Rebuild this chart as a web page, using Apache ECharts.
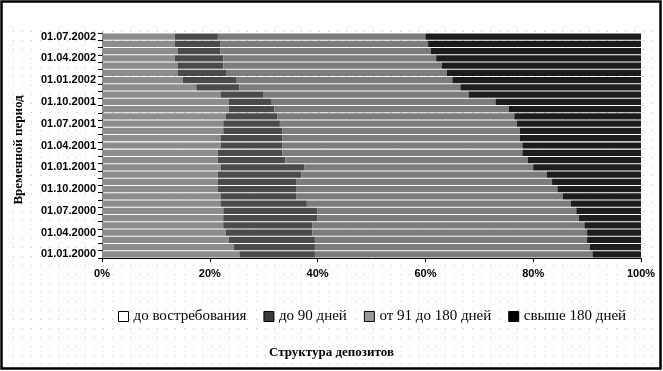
<!DOCTYPE html>
<html>
<head>
<meta charset="utf-8">
<script src="https://cdn.jsdelivr.net/npm/echarts@6/dist/echarts.min.js"></script>
<style>
html,body{margin:0;padding:0;background:#fff;}
#chart{width:663px;height:371px;}
</style>
</head>
<body>
<div id="chart"></div>
<script>
// Categories: monthly dates 01.01.2000 .. 01.07.2002
var categories = [
  '01.01.2000','01.02.2000','01.03.2000','01.04.2000','01.05.2000','01.06.2000',
  '01.07.2000','01.08.2000','01.09.2000','01.10.2000','01.11.2000','01.12.2000',
  '01.01.2001','01.02.2001','01.03.2001','01.04.2001','01.05.2001','01.06.2001',
  '01.07.2001','01.08.2001','01.09.2001','01.10.2001','01.11.2001','01.12.2001',
  '01.01.2002','01.02.2002','01.03.2002','01.04.2002','01.05.2002','01.06.2002',
  '01.07.2002'
];
var seriesNames = ['до востребования','до 90 дней','от 91 до 180 дней','свыше 180 дней'];
var onDemand = [25.5,24.5,23.5,23,22.5,22.5,22.5,22,22,21.5,21.5,21.5,22,21.5,21.5,22,22,22.5,22.5,23,23.5,23.5,22,17.5,15,14,14,13.5,14,13.5,13.5];
var upTo90 = [14,15,16,16,16.5,17.5,17.5,16,14,14.5,14.5,15.5,15.5,12.5,12,11.5,11.5,11,10.5,9.5,8.5,8,8,8,10,9,8.5,9,8,8.5,8];
var from91to180 = [51.5,51,50.5,51,50.5,48.5,48,49,49.5,48.5,47.5,45.5,42.5,45,44.5,44.5,44,44,44,44,43.5,41.5,38,41,40,41,40.5,39.5,39,38.5,38.5];
var over180 = [9,9.5,10,10,10.5,11.5,12,13,14.5,15.5,16.5,17.5,20,21,22,22,22.5,22.5,23,23.5,24.5,27,32,33.5,35,36,37,38,39,39.5,40];
var xTicks = [0,20,40,60,80,100];

var chart = echarts.init(document.getElementById('chart'), null, {renderer:'canvas'});

// light dotted background pattern
var pc = document.createElement('canvas');
pc.width = 9; pc.height = 9;
var pctx = pc.getContext('2d');
pctx.fillStyle = '#c4c4c4';
pctx.fillRect(4,4,1,1);

var serif = '"Liberation Serif","Times New Roman",serif';
var sans = '"Liberation Sans",Arial,sans-serif';
var barColors = ['#8c8c8c','#4a4a4a','#7c7c7c','#1c1c1c'];
var legendStyles = [
  {color:'#ffffff', borderColor:'#000', borderWidth:1},
  {color:'#3a3a3a', borderColor:'#000', borderWidth:1},
  {color:'#9a9a9a', borderColor:'#000', borderWidth:1},
  {color:'#000000', borderColor:'#000', borderWidth:1}
];
var dataSets = [onDemand, upTo90, from91to180, over180];

var series = dataSets.map(function(d, k){
  return {
    name: seriesNames[k],
    type: 'bar',
    stack: 'total',
    barCategoryGap: '14%',
    data: d,
    itemStyle: {color: barColors[k]},
    emphasis: {disabled:true}
  };
});

chart.setOption({
  animation: false,
  backgroundColor: '#fff',
  graphic: [
    {type:'rect', z:-10, silent:true, shape:{x:8,y:26,width:648,height:340}, style:{fill:{image:pc, repeat:'repeat'}}},
    {type:'rect', z:100, silent:true, shape:{x:1.5,y:1.5,width:659,height:367}, style:{fill:null, stroke:'#000', lineWidth:2.5}},
    {type:'text', z:100, silent:true, left:'center', top:346, style:{text:'Структура депозитов', font:'bold 13px '+serif, fill:'#000'}},
    {type:'text', z:100, silent:true, x:19, y:150, rotation:Math.PI/2, style:{text:'Временной период', font:'bold 13px '+serif, fill:'#000', align:'center', verticalAlign:'middle'}}
  ],
  legend: {
    left: 113,
    top: 304,
    itemGap: 17,
    itemWidth: 10,
    itemHeight: 10,
    icon: 'rect',
    textStyle: {fontFamily: serif, fontSize: 15, color:'#000'},
    data: seriesNames.map(function(n,k){ return {name:n, itemStyle: legendStyles[k]}; })
  },
  grid: {left:102, right:22, top:33, bottom:113},
  xAxis: {
    type: 'value',
    min: xTicks[0],
    max: xTicks[xTicks.length-1],
    interval: 20,
    axisLine: {show:true, lineStyle:{color:'#000'}},
    axisTick: {show:true, length:4, lineStyle:{color:'#000'}},
    splitLine: {show:false},
    axisLabel: {formatter:'{value}%', fontFamily: sans, fontWeight:'bold', fontSize:11, color:'#000', margin:10}
  },
  yAxis: {
    type: 'category',
    data: categories,
    axisLine: {show:true, lineStyle:{color:'#000'}},
    axisTick: {show:true, interval:0, length:4, lineStyle:{color:'#000'}},
    axisLabel: {interval:2, fontFamily: sans, fontWeight:'bold', fontSize:11, color:'#000', margin:6}
  },
  series: series
});
</script>
</body>
</html>
